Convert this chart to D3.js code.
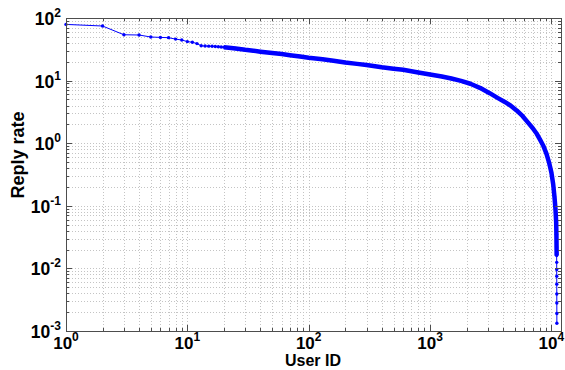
<!DOCTYPE html>
<html>
<head>
<meta charset="utf-8">
<script src="https://cdn.jsdelivr.net/npm/d3@7/dist/d3.min.js"></script>
<style>
    body { margin: 0; background: #fff; }
    text { font-family: Arial, "Liberation Sans", sans-serif; font-weight: bold; fill: #000; }
</style>
</head>
<body>
<svg id="chart" width="565" height="370"></svg>
<script>

// values (user rank -> reply rate)
const userIds = [1, 2, 3, 4, 5, 6, 7, 8, 9, 10, 11, 12, 13, 14, 15, 16, 17, 18, 19, 20,
    22, 25, 30, 35, 40, 50, 60, 70, 85, 100, 130, 160, 200, 250, 300, 400, 500, 600, 800,
    1000, 1250, 1500, 1800, 2150, 2600, 3100, 3600, 4100, 4600, 5200, 5800, 6400, 7000,
    7600, 8100, 8600, 9100, 9600, 10000, 10350, 10600, 10800, 10950, 11000, 11030, 11050,
    11060, 11065, 11070, 11075, 11080, 11085, 11090, 11095];
const replyRates = [79, 74.5, 54, 53.5, 49.7, 49, 48.5, 46, 44.5, 42, 41, 39, 36, 35.7, 35.5, 35.3, 35, 34.8, 34.5, 34.2,
    33.5, 32.5, 31, 30, 29, 27.5, 26.5, 25.5, 24.2, 23.2, 22, 20.8, 19.5, 18.5, 17.7, 16.3, 15.5, 14.9, 13.5,
    12.5, 11.6, 10.8, 9.9, 8.9, 7.6, 6.3, 5.3, 4.6, 4.0, 3.3, 2.7, 2.15, 1.75,
    1.4, 1.12, 0.9, 0.68, 0.48, 0.34, 0.22, 0.14, 0.09, 0.055, 0.035, 0.022, 0.016,
    0.0125, 0.0096, 0.0075, 0.0056, 0.0039, 0.0028, 0.0019, 0.00133];

const xTickExps = [0, 1, 2, 3, 4];
const yTickExps = [-3, -2, -1, 0, 1, 2];

const data = userIds.map((d, i) => ({ id: d, rate: replyRates[i] }));

const plot = { left: 66, top: 18, right: 561, bottom: 331 };

const x = d3.scaleLog().domain([1, 12000]).range([plot.left, plot.right]);
const y = d3.scaleLog().domain([1e-3, 1e2]).range([plot.bottom, plot.top]);

const svg = d3.select("#chart");

// grid (matlab style dotted)
const xMinor = x.ticks();
const yMinor = y.ticks();

const grid = svg.append("g").attr("stroke", "#c4c4c4").attr("stroke-dasharray", "1,2").attr("stroke-width", 1);
grid.selectAll(".gx").data(xMinor).join("line")
    .attr("x1", d => Math.round(x(d)) + 0.5).attr("x2", d => Math.round(x(d)) + 0.5)
    .attr("y1", plot.top).attr("y2", plot.bottom);
grid.selectAll(".gy").data(yMinor).join("line")
    .attr("y1", d => Math.round(y(d)) + 0.5).attr("y2", d => Math.round(y(d)) + 0.5)
    .attr("x1", plot.left).attr("x2", plot.right);

// the line itself
const line = d3.line().x(d => x(d.id)).y(d => y(d.rate));

svg.append("path")
    .datum(data)
    .attr("fill", "none")
    .attr("stroke", "#0000ff")
    .attr("stroke-width", 1)
    .attr("d", line);

// dense part: markers merge into a thick band
svg.append("path")
    .datum(data.filter(d => d.id >= 20 && d.rate >= 0.015))
    .attr("fill", "none")
    .attr("stroke", "#0000ff")
    .attr("stroke-width", 4.5)
    .attr("stroke-linejoin", "round")
    .attr("d", line);

svg.append("g").selectAll("circle")
    .data(data)
    .join("circle")
    .attr("cx", d => x(d.id))
    .attr("cy", d => y(d.rate))
    .attr("r", 1.7)
    .attr("fill", "#0000ff");

// axes box + inner ticks
const axes = svg.append("g").attr("stroke", "#4d4d4d").attr("stroke-width", 1).attr("fill", "none");
axes.append("rect")
    .attr("x", plot.left + 0.5).attr("y", plot.top + 0.5)
    .attr("width", plot.right - plot.left).attr("height", plot.bottom - plot.top);

const isMajor = v => Math.abs(Math.log10(v) - Math.round(Math.log10(v))) < 1e-9;

axes.selectAll(".tx").data(xMinor).join("path")
    .attr("d", d => {
        const px = Math.round(x(d)) + 0.5;
        const l = isMajor(d) ? 6 : 3;
        return `M${px},${plot.bottom}v${-l}M${px},${plot.top}v${l}`;
    });
axes.selectAll(".ty").data(yMinor).join("path")
    .attr("d", d => {
        const py = Math.round(y(d)) + 0.5;
        const l = isMajor(d) ? 6 : 3;
        return `M${plot.left},${py}h${l}M${plot.right},${py}h${-l}`;
    });

// tick labels 10^n
function powLabel(g, e) {
    g.append("tspan").text("10");
    g.append("tspan").attr("font-size", 12).attr("dy", -8).text(e);
}

svg.append("g").selectAll("text")
    .data(xTickExps)
    .join("text")
    .attr("x", d => x(Math.pow(10, d)))
    .attr("y", 349)
    .attr("text-anchor", "middle")
    .attr("font-size", 17)
    .each(function (d) { powLabel(d3.select(this), d); });

svg.append("g").selectAll("text")
    .data(yTickExps)
    .join("text")
    .attr("x", 61)
    .attr("y", d => y(Math.pow(10, d)) + 7)
    .attr("text-anchor", "end")
    .attr("font-size", 17.5)
    .each(function (d) { powLabel(d3.select(this), d); });

// axis titles
svg.append("text")
    .attr("x", 313)
    .attr("y", 366)
    .attr("text-anchor", "middle")
    .attr("font-size", 16)
    .text("User ID");

svg.append("text")
    .attr("transform", "translate(24,155) rotate(-90)")
    .attr("text-anchor", "middle")
    .attr("font-size", 18)
    .text("Reply rate");

</script>
</body>
</html>
